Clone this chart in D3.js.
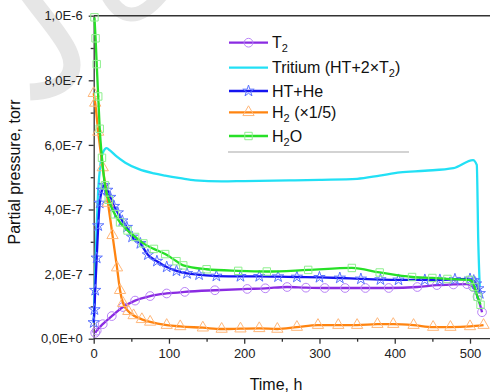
<!DOCTYPE html>
<html>
<head>
<meta charset="utf-8">
<script src="https://cdn.jsdelivr.net/npm/d3@7"></script>
<style>
  body { margin: 0; background: #fff; }
  svg { font-family: "Liberation Sans", Arial, sans-serif; display: block; }
  .axis path, .axis line { stroke: #333; stroke-width: 1.3; }
  .axis text { font-size: 13px; fill: #222; }
</style>
</head>
<body>
<div id="plot"></div>
<script>
// values in units of 1E-7 torr, time in hours
const t2 = [[2,0.18],[4,0.25],[12,0.45],[24,0.7],[39,0.98],[55,1.18],[75,1.32],[97,1.4],[121,1.45],[161,1.5],[204,1.54],[228,1.56],[257,1.6],[282,1.58],[307,1.57],[334,1.57],[361,1.57],[392,1.57],[430,1.6],[456,1.66],[478,1.68],[496,1.69],[504,1.6],[510,1.3],[516,0.82]];
const tritium = [[0,0.5],[2,2.0],[4,3.5],[6,4.6],[9,5.4],[13,5.8],[17,5.9],[22,5.82],[30,5.65],[42,5.45],[60,5.25],[80,5.12],[95,5.05],[115,4.97],[135,4.9],[170,4.87],[200,4.88],[260,4.9],[300,4.92],[350,4.95],[380,5.05],[407,5.15],[440,5.2],[478,5.28],[504,5.53],[509,5.38],[511,3.0],[513,1.6]];
const htHe = [[0,0.5],[1,0.9],[2,1.5],[4,2.5],[6,3.5],[8,4.2],[11,4.6],[14,4.75],[18,4.6],[22,4.38],[27,4.1],[32,3.9],[38,3.65],[44,3.45],[51,3.15],[62,2.95],[72,2.6],[84,2.4],[97,2.22],[110,2.1],[124,2.02],[140,1.98],[163,1.94],[195,1.93],[220,1.93],[245,1.92],[270,1.91],[300,1.9],[327,1.88],[355,1.85],[381,1.83],[405,1.82],[440,1.82],[460,1.82],[480,1.84],[500,1.85],[505,1.8],[508,1.7],[511,1.55],[513,1.4]];
const h2 = [[0,7.6],[2,7.3],[6,6.4],[12,5.3],[19,4.2],[25,3.2],[31,2.2],[35,1.5],[39,1.1],[46,0.85],[53,0.72],[64,0.6],[75,0.52],[97,0.42],[115,0.38],[145,0.34],[170,0.3],[195,0.31],[220,0.32],[244,0.3],[270,0.36],[298,0.42],[325,0.42],[350,0.42],[377,0.45],[398,0.45],[425,0.42],[451,0.36],[474,0.36],[500,0.38],[518,0.42]];
const h2o = [[1,9.95],[2.5,9.3],[4,8.5],[6,7.5],[8,6.5],[11,5.6],[15,4.75],[20,4.3],[28,3.85],[35,3.6],[45,3.35],[55,3.15],[66,2.95],[80,2.78],[95,2.62],[110,2.4],[119,2.27],[150,2.15],[192,2.1],[230,2.08],[285,2.13],[343,2.19],[380,2.05],[423,1.91],[450,1.88],[470,1.85],[500,1.82],[506,1.6],[510,1.3],[514,1.05]];

const seriesNames = ["T2", "Tritium", "HT+He", "H2", "H2O"];
const xTicks = [0, 100, 200, 300, 400, 500];
const xMinorTicks = [50, 150, 250, 350, 450, 550];
const yTicks = [0, 2, 4, 6, 8, 10];
const yTickLabels = ["0,0E+0", "2,0E-7", "4,0E-7", "6,0E-7", "8,0E-7", "1,0E-6"];
const yMinorTicks = [1, 3, 5, 7, 9];

const W = 490, H = 392;
const svg = d3.select("#plot").append("svg")
    .attr("width", W)
    .attr("height", H);

// faint watermark behind everything
svg.append("path")
    .attr("d", "M28,-6 C52,28 86,58 66,80 Q55,91 30,92")
    .attr("fill", "none").attr("stroke", "#e6e6e6").attr("stroke-width", 17);
svg.append("path")
    .attr("d", "M106,-8 Q128,36 162,-6")
    .attr("fill", "none").attr("stroke", "#e6e6e6").attr("stroke-width", 14);

const x = d3.scaleLinear().domain([0, 500]).range([93.7, 470]);
const y = d3.scaleLinear().domain([0, 10]).range([338.7, 15.7]);

// top frame line
svg.append("line")
    .attr("x1", x(0)).attr("x2", W)
    .attr("y1", y(10)).attr("y2", y(10))
    .attr("stroke", "#333").attr("stroke-width", 1.5);

// axes
svg.append("g")
    .attr("class", "axis")
    .attr("transform", `translate(0,${y(0)})`)
    .call(d3.axisBottom(x).tickValues(xMinorTicks).tickSize(3).tickSizeOuter(0).tickFormat(""))
    .call(g => g.select(".domain").remove());
const xAxis = svg.append("g")
    .attr("class", "axis")
    .attr("transform", `translate(0,${y(0)})`)
    .call(d3.axisBottom(x).tickValues(xTicks).tickSize(5).tickSizeOuter(0).tickPadding(5));
xAxis.select(".domain").attr("d", `M${x(0)},0H${W}`);

svg.append("g")
    .attr("class", "axis")
    .attr("transform", `translate(${x(0)},0)`)
    .call(d3.axisLeft(y).tickValues(yMinorTicks).tickSize(3).tickSizeOuter(0).tickFormat(""))
    .call(g => g.select(".domain").remove());
svg.append("g")
    .attr("class", "axis")
    .attr("transform", `translate(${x(0)},0)`)
    .call(d3.axisLeft(y).tickValues(yTicks).tickSize(5).tickSizeOuter(0).tickPadding(6)
        .tickFormat((d, i) => yTickLabels[i]));

// axis titles
svg.append("text")
    .attr("x", 276).attr("y", 390)
    .attr("text-anchor", "middle")
    .style("font-size", "16px").attr("fill", "#111")
    .text("Time, h");
svg.append("text")
    .attr("transform", "translate(20,172) rotate(-90)")
    .attr("text-anchor", "middle")
    .style("font-size", "16px").attr("fill", "#111")
    .text("Partial pressure, torr");

const line = d3.line()
    .x(d => x(d[0]))
    .y(d => y(d[1]))
    .curve(d3.curveMonotoneX);

const styles = {
    "Tritium": {data: tritium, color: "#22e0f5", mark: null},
    "T2": {data: t2, color: "#8a2be2", mark: d3.symbolCircle, markColor: "#b983f7", size: 60},
    "HT+He": {data: htHe, color: "#1515f0", mark: d3.symbolStar, markColor: "#5a72ff", size: 40},
    "H2": {data: h2, color: "#ff8410", mark: d3.symbolTriangle, markColor: "#ffb77a", size: 55},
    "H2O": {data: h2o, color: "#27e027", mark: d3.symbolSquare, markColor: "#8eef8e", size: 55}
};

const drawOrder = ["Tritium", "T2", "HT+He", "H2", "H2O"];
drawOrder.forEach(name => {
    const s = styles[name];
    svg.append("path")
        .datum(s.data)
        .attr("fill", "none")
        .attr("stroke", s.color)
        .attr("stroke-width", 2.3)
        .attr("d", line);
    if (s.mark) {
        svg.selectAll(null)
            .data(s.data)
            .enter().append("path")
            .attr("transform", d => `translate(${x(d[0])},${y(d[1])})`)
            .attr("d", d3.symbol().type(s.mark).size(s.size))
            .attr("fill", "none")
            .attr("stroke", s.markColor)
            .attr("stroke-width", 1);
    }
});

// legend
const legendRows = [42.7, 67.7, 91, 112.3, 136];
const legendLabels = [
    [["T", ""], ["2", "sub"]],
    [["Tritium (HT+2×T", ""], ["2", "sub"], [")", ""]],
    [["HT+He", ""]],
    [["H", ""], ["2", "sub"], [" (×1/5)", ""]],
    [["H", ""], ["2", "sub"], ["O", ""]]
];
const legend = svg.append("g");
seriesNames.forEach((name, i) => {
    const s = styles[name];
    const ly = legendRows[i];
    legend.append("line")
        .attr("x1", 229).attr("x2", 268)
        .attr("y1", ly).attr("y2", ly)
        .attr("stroke", s.color).attr("stroke-width", 2.3);
    if (s.mark) {
        legend.append("path")
            .attr("transform", `translate(248.5,${ly})`)
            .attr("d", d3.symbol().type(s.mark).size(s.size))
            .attr("fill", "none")
            .attr("stroke", s.markColor)
            .attr("stroke-width", 1);
    }
    const t = legend.append("text")
        .attr("x", 272).attr("y", ly + 5.7)
        .style("font-size", "16px").attr("fill", "#111");
    legendLabels[i].forEach(part => {
        const sp = t.append("tspan").text(part[0]);
        if (part[1] === "sub") {
            sp.style("font-size", "11px").attr("dy", 4);
        } else if (t.selectAll("tspan").size() > 1) {
            sp.attr("dy", -4);
        }
    });
});
legend.append("line")
    .attr("x1", 228).attr("x2", 409)
    .attr("y1", 152).attr("y2", 152)
    .attr("stroke", "#c4c4c4").attr("stroke-width", 1.5);
</script>
</body>
</html>
